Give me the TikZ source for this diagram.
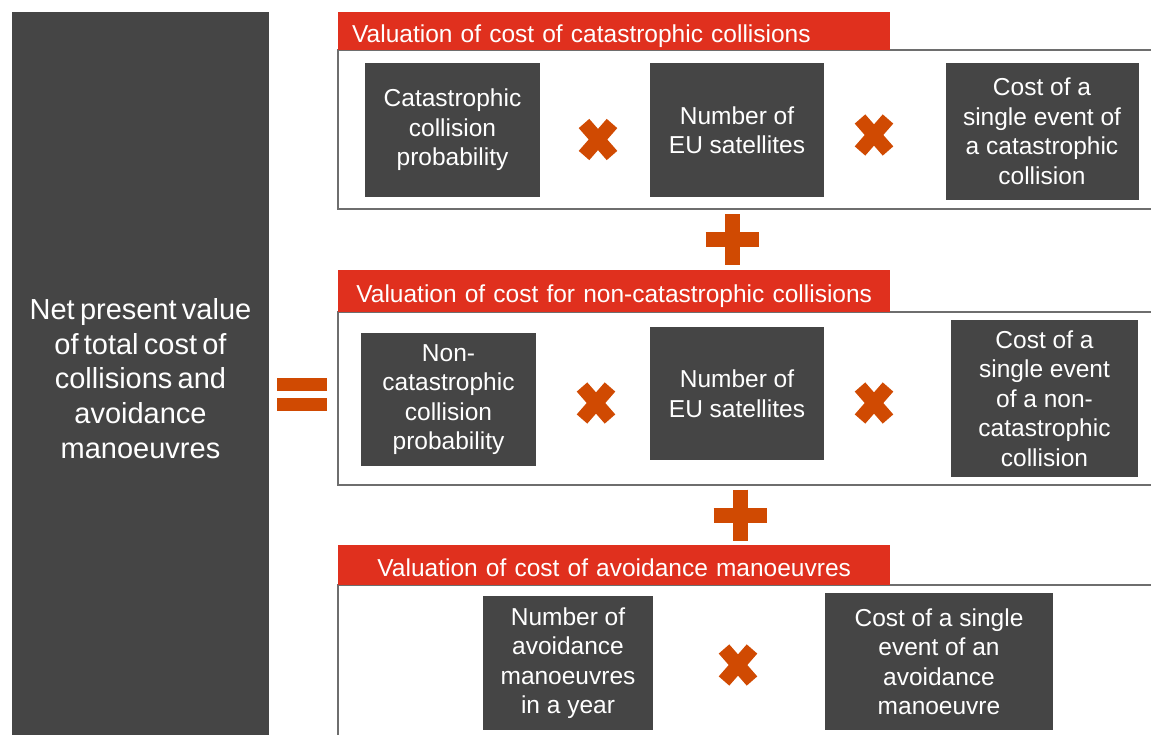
\documentclass[tikz,border=0pt]{standalone}
\usepackage{fontspec}
\setmainfont{Liberation Sans}
\newfontfamily\leftfont[WordSpace=0.65]{Liberation Sans}
\definecolor{dark}{HTML}{454545}
\definecolor{hdr}{HTML}{E0301E}
\definecolor{org}{HTML}{D04A02}
\definecolor{framec}{HTML}{6E6E6E}
\begin{document}
\begin{tikzpicture}[x=1pt,y=-1pt,
  dbox/.style={fill=dark, text=white, inner sep=0pt, align=center,
    font=\fontsize{24.5}{29.5}\selectfont},
  hdrbox/.style={fill=hdr, text=white, inner ysep=0pt, inner xsep=14pt,
    minimum height=38pt, text width=524pt, anchor=north west,
    text height=26pt, text depth=4pt,
    font=\fontsize{24.5}{28}\selectfont},
  panel/.style={draw=framec, line width=1.5pt},
  sym/.style={draw=org, line width=14pt},
]
\useasboundingbox (0,0) rectangle (1151,735);
\begin{scope}
\clip (0,0) rectangle (1151,735);
% left box
\node[dbox, minimum width=257pt, minimum height=733pt,
  font=\leftfont\fontsize{29}{34.7}\selectfont] (npv) at (140.5,378.5)
  {Net present value\\of total cost of\\collisions and\\avoidance\\manoeuvres};
% panels
\draw[panel] (1160,50) -| (338,209) -- (1160,209);
\draw[panel] (1160,312) -| (338,485) -- (1160,485);
\draw[panel] (1160,585) -| (338,745);
\end{scope}
% headers
\node[hdrbox, align=left] (h1) at (338,12) {Valuation of cost of catastrophic collisions};
\node[hdrbox, align=center, minimum height=42pt] (h2) at (338,270) {Valuation of cost for non-catastrophic collisions};
\node[hdrbox, align=center, minimum height=40pt] (h3) at (338,545) {Valuation of cost of avoidance manoeuvres};
% panel 1 boxes
\node[dbox, minimum width=175pt, minimum height=134pt] (a1) at (452.5,130) {Catastrophic\\collision\\probability};
\node[dbox, minimum width=174pt, minimum height=134pt] (b1) at (737,130) {Number of\\EU satellites};
\node[dbox, minimum width=193pt, minimum height=137pt] (c1) at (1042,131.5) {Cost of a\\single event of\\a catastrophic\\collision};
% panel 2 boxes
\node[dbox, minimum width=175pt, minimum height=133pt] (a2) at (448.5,399.5) {Non-\\catastrophic\\collision\\probability};
\node[dbox, minimum width=174pt, minimum height=133pt] (b2) at (737,393.5) {Number of\\EU satellites};
\node[dbox, minimum width=187pt, minimum height=157pt] (c2) at (1044.5,398.5) {Cost of a\\single event\\of a non-\\catastrophic\\collision};
% panel 3 boxes
\node[dbox, minimum width=170pt, minimum height=134pt] (a3) at (568,663) {Number of\\avoidance\\manoeuvres\\in a year};
\node[dbox, minimum width=228pt, minimum height=137pt] (b3) at (939,661.5) {Cost of a single\\event of an\\avoidance\\manoeuvre};
% multiply signs
\foreach \cx/\cy in {598/139.5, 874/135, 596/403, 874/403, 738/665}{
  \draw[sym] (\cx-14,\cy-16) -- (\cx+14,\cy+16);
  \draw[sym] (\cx-14,\cy+16) -- (\cx+14,\cy-16);
}
% plus signs
\foreach \cx/\cy in {732/240, 740/515}{
  \draw[sym, line width=15pt] (\cx-26.5,\cy) -- (\cx+26.5,\cy);
  \draw[sym, line width=15pt] (\cx,\cy-25.5) -- (\cx,\cy+25.5);
}
% equals sign
\fill[org] (277,378) rectangle (327,391);
\fill[org] (277,398) rectangle (327,411);
\end{tikzpicture}
\end{document}
